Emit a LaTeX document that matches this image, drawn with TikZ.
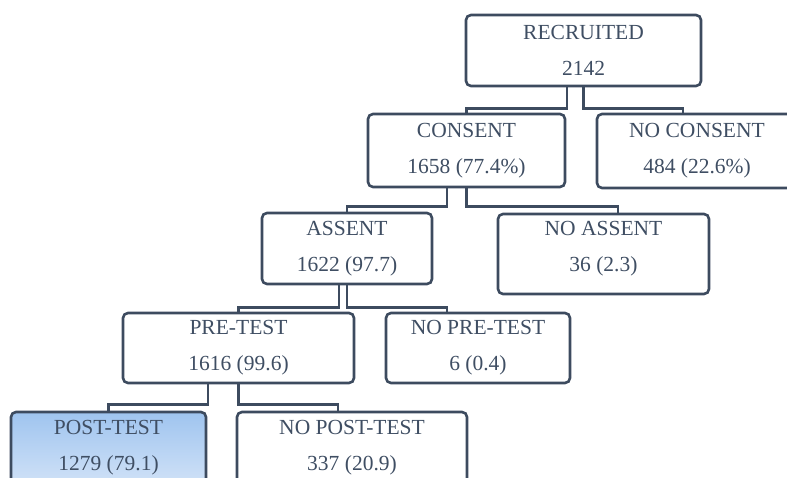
\documentclass[tikz,border=0pt]{standalone}
\usepackage{fontspec}
\setmainfont{Liberation Serif}
\usepackage{tikz}
\usetikzlibrary{calc}
\definecolor{flline}{HTML}{3D4B5F}
\definecolor{fltext}{HTML}{3F4E63}
\definecolor{flbluetop}{HTML}{9FC4EF}
\definecolor{flbluebot}{HTML}{CFE1F7}

\begin{document}
\begin{tikzpicture}[x=1pt,y=-1pt,
  font=\fontsize{21.5}{36}\selectfont,
  stage/.style={rectangle,rounded corners=5pt,draw=flline,fill=white,line width=2.6pt,text=fltext,align=center,inner sep=0pt},
  final/.style={stage,top color=flbluetop,bottom color=flbluebot},
  link/.style={draw=flline,line width=2.5pt}]
  \clip (0,0) rectangle (787,478);
  \node[stage,minimum width=235,minimum height=71] (rec) at (583.5,50.5) {RECRUITED\\2142};
  \node[stage,minimum width=197,minimum height=73] (con) at (466.5,150.5) {CONSENT\\1658 (77.4\%)};
  \node[stage,minimum width=200,minimum height=74] (nocon) at (697,151) {NO CONSENT\\484 (22.6\%)};
  \node[stage,minimum width=170,minimum height=71] (ass) at (347,248.5) {ASSENT\\1622 (97.7)};
  \node[stage,minimum width=211,minimum height=80,text depth=16pt] (noass) at (603.5,254) {NO ASSENT\\36 (2.3)};
  \node[stage,minimum width=231,minimum height=70] (pre) at (238.5,348) {PRE-TEST\\1616 (99.6)};
  \node[stage,minimum width=184,minimum height=70] (nopre) at (478,348) {NO PRE-TEST\\6 (0.4)};
  \node[final,minimum width=195,minimum height=71] (post) at (108.5,447.5) {POST-TEST\\1279 (79.1)};
  \node[stage,minimum width=230,minimum height=71] (nopost) at (352,447.5) {NO POST-TEST\\337 (20.9)};
  % elbow connectors
  \draw[link] ($(rec.south)+(-16.5,0)$) -- ++(0,21) -| (con.north);
  \draw[link] (rec.south) -- ++(0,21) -| ($(nocon.north)+(-14,0)$);
  \draw[link] ($(con.south)+(-19.5,0)$) -- ++(0,18) -| (ass.north);
  \draw[link] (con.south) -- ++(0,18) -| ($(noass.north)+(14.5,0)$);
  \draw[link] ($(ass.south)+(-8,0)$) -- ++(0,22) -| (pre.north);
  \draw[link] (ass.south) -- ++(0,22) -| ($(nopre.north)+(-31,0)$);
  \draw[link] ($(pre.south)+(-30.5,0)$) -- ++(0,20) -| (post.north);
  \draw[link] (pre.south) -- ++(0,20) -| ($(nopost.north)+(-14,0)$);
\end{tikzpicture}
\end{document}
